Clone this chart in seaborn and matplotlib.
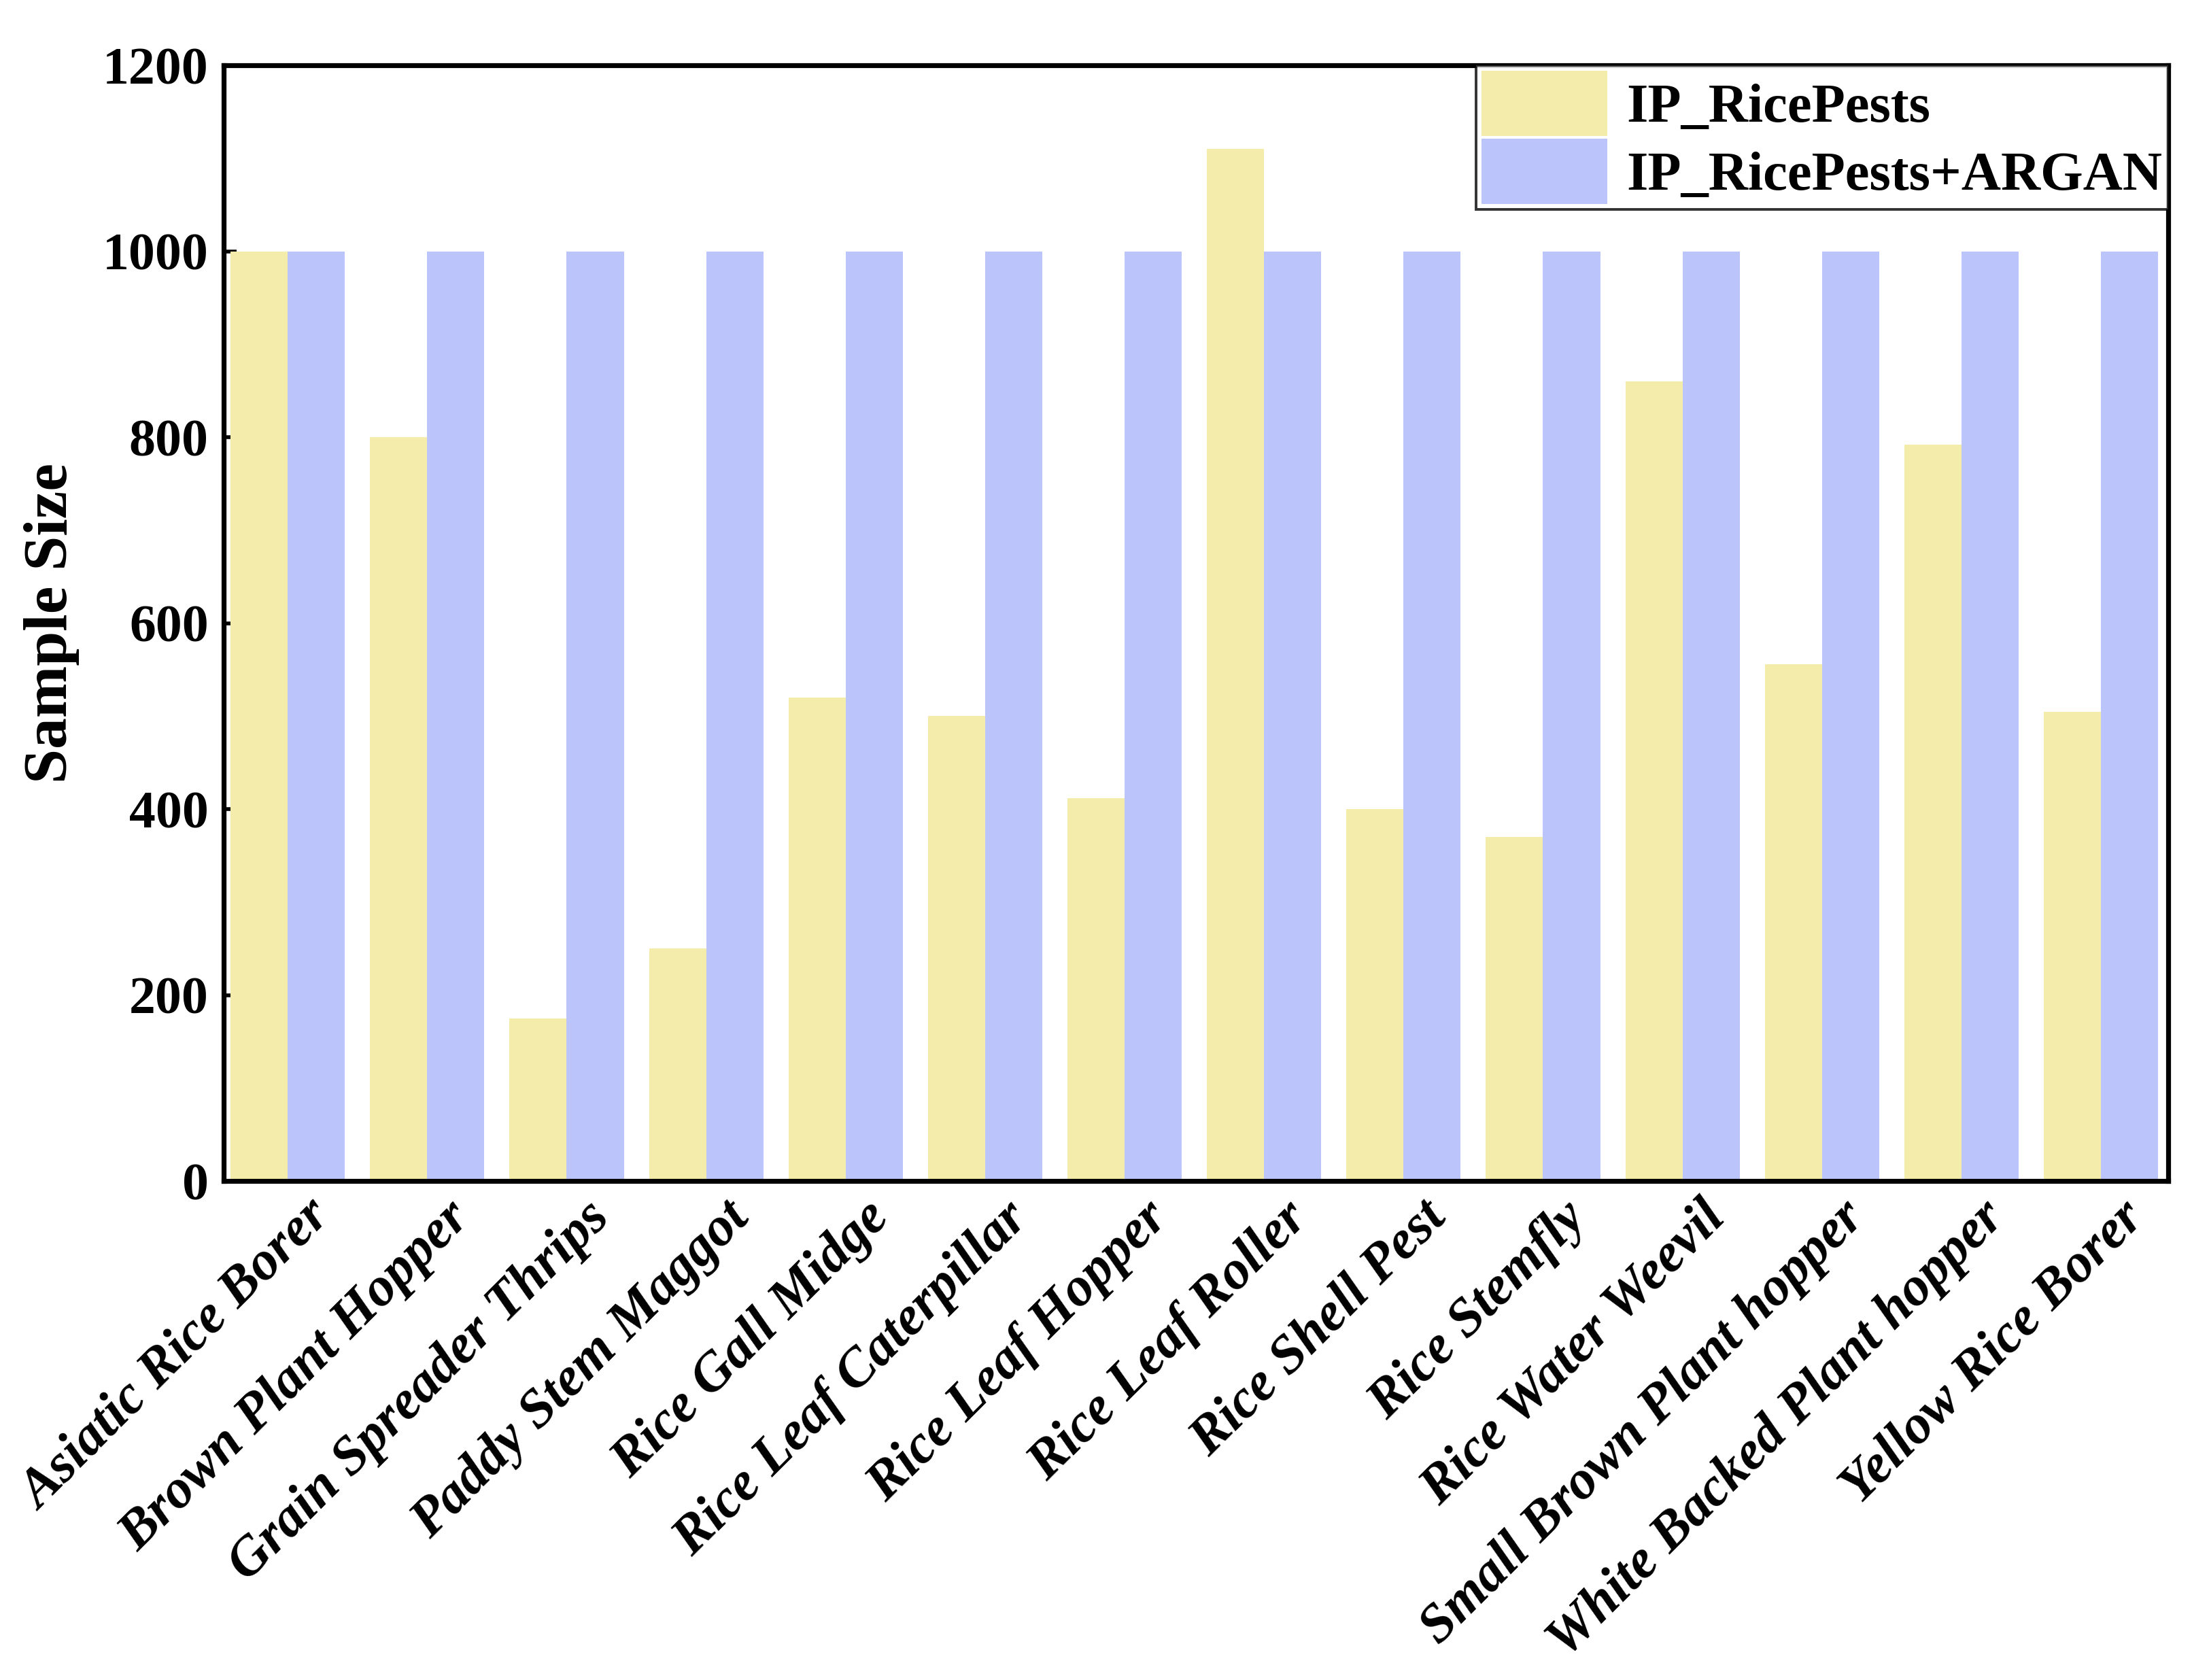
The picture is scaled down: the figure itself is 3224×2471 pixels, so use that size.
import numpy as np
import pandas as pd
import seaborn as sns
import matplotlib.pyplot as plt
import matplotlib.transforms as mtransforms

plt.switch_backend("Agg")

pests = ["Asiatic Rice Borer", "Brown Plant Hopper", "Grain Spreader Thrips",
         "Paddy Stem Maggot", "Rice Gall Midge", "Rice Leaf Caterpillar",
         "Rice Leaf Hopper", "Rice Leaf Roller", "Rice Shell Pest",
         "Rice Stemfly", "Rice Water Weevil", "Small Brown Plant hopper",
         "White Backed Plant hopper", "Yellow Rice Borer"]
original = [1000, 800, 175, 250, 520, 500, 412, 1110, 400, 370, 860, 556, 792, 505]
augmented = [1000] * 14
series = ["IP_RicePests", "IP_RicePests+ARGAN"]
colors = ["#F4ECAA", "#BCC4FC"]

df = pd.DataFrame({
    "pest": pests * 2,
    "size": original + augmented,
    "dataset": [series[0]] * len(pests) + [series[1]] * len(pests),
})

sns.set_style("ticks")
plt.rcParams["font.family"] = ["Liberation Serif", "DejaVu Serif"]
plt.rcParams["font.weight"] = "bold"
plt.rcParams["text.color"] = "black"
plt.rcParams["xtick.color"] = "black"
plt.rcParams["ytick.color"] = "black"
plt.rcParams["axes.labelcolor"] = "black"

fig = plt.figure(figsize=(16.12, 12.355), dpi=200)
ax = fig.add_axes([0.102, 0.297, 0.887, 0.664])

sns.barplot(data=df, x="pest", y="size", hue="dataset", palette=colors,
            width=0.82, gap=0, saturation=1, linewidth=0, ax=ax, legend=True)

ax.set_ylim(0, 1200)
ax.set_xlim(-0.46, 13.48)
ax.set_yticks(np.arange(0, 1201, 200))
ax.set_xlabel("")
ax.set_ylabel("Sample Size", fontsize=33, fontweight="bold", labelpad=12)

for s in ax.spines.values():
    s.set_linewidth(2.6)
    s.set_color("black")

ax.tick_params(axis="both", direction="in", width=2, length=7)
ax.tick_params(axis="y", labelsize=28, pad=8)
ax.tick_params(axis="x", pad=6)
ax.set_xticks(range(len(pests)))
ax.set_xticklabels(pests, rotation=45, ha="right", rotation_mode="anchor",
                   fontsize=29, fontweight="bold", fontstyle="italic")
# nudge rotated labels a bit to the right, like the original
shift = mtransforms.ScaledTranslation(0.13, 0, fig.dpi_scale_trans)
for t in ax.get_xticklabels():
    t.set_transform(t.get_transform() + shift)
for t in ax.get_yticklabels():
    t.set_fontweight("bold")

leg = ax.legend(loc="upper right", fontsize=29, frameon=True, fancybox=False,
                borderaxespad=0, handlelength=2.3, handleheight=1.45,
                labelspacing=0.05, borderpad=0.1, handletextpad=0.35)
leg.get_frame().set_edgecolor("black")
leg.get_frame().set_linewidth(1.4)
for t in leg.get_texts():
    t.set_fontweight("bold")

fig.savefig("out.png", dpi=200)
